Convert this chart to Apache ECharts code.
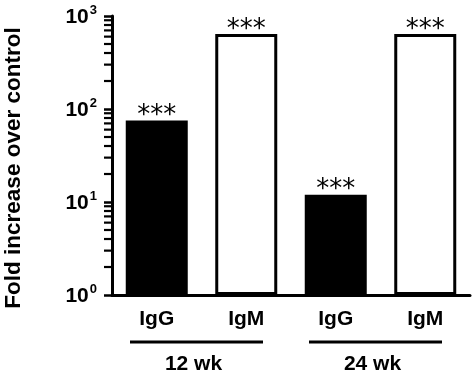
<!DOCTYPE html>
<html>
<head>
<meta charset="utf-8">
<script src="https://cdn.jsdelivr.net/npm/echarts@6/dist/echarts.min.js"></script>
<style>html,body{margin:0;padding:0;background:#fff}#c{width:474px;height:375px;background:#fff}</style>
</head>
<body>
<div id="c"></div>
<script>
const categories = ['IgG', 'IgM', 'IgG', 'IgM'];
const foldValues = [75, 640, 12, 640];
const barColors = ['#000000', '#ffffff', '#000000', '#ffffff'];
const significance = ['***', '***', '***', '***'];
const groupLabels = ['12 wk', '24 wk'];
const groupMembers = [[0, 1], [2, 3]];
const decades = [1, 10, 100];
const minorMultipliers = [2, 3, 4, 5, 6, 7, 8, 9];
const yTitle = 'Fold increase over control';

const minorTickValues = [];
decades.forEach(d => minorMultipliers.forEach(m => minorTickValues.push(d * m)));

const FONT = '"Liberation Sans", Arial, sans-serif';
const chart = echarts.init(document.getElementById('c'));

chart.setOption({
  animation: false,
  grid: {left: 112, right: 4, top: 16, bottom: 80, containLabel: false, outerBoundsMode: 'none'},
  xAxis: [
    {
      type: 'category',
      data: categories,
      axisLine: {lineStyle: {color: '#000', width: 3}},
      axisTick: {alignWithLabel: true, length: 8, lineStyle: {color: '#000', width: 2.5}},
      axisLabel: {color: '#000', fontFamily: FONT, fontWeight: 'bold', fontSize: 21, margin: 14, interval: 0}
    },
    {type: 'value', min: 0, max: 1, show: false}
  ],
  yAxis: {
    type: 'log',
    logBase: 10,
    min: 1,
    max: 1000,
    name: yTitle,
    nameLocation: 'middle',
    nameRotate: 90,
    nameGap: 87,
    nameTextStyle: {color: '#000', fontFamily: FONT, fontWeight: 'bold', fontSize: 22.5, padding: [0, 25, 0, 0]},
    splitLine: {show: false},
    axisLine: {show: true, lineStyle: {color: '#000', width: 3}},
    axisTick: {show: true, length: 8, lineStyle: {color: '#000', width: 2.5}},
    axisLabel: {
      margin: 15,
      formatter: v => '{b|10}{s|' + Math.round(Math.log10(v)) + '}',
      rich: {
        b: {fontFamily: FONT, fontWeight: 'bold', fontSize: 21, color: '#000', lineHeight: 24, verticalAlign: 'bottom'},
        s: {fontFamily: FONT, fontWeight: 'bold', fontSize: 13, color: '#000', lineHeight: 24, verticalAlign: 'top', padding: [0, 0, 0, 1]}
      }
    }
  },
  series: [
    {
      type: 'bar',
      xAxisIndex: 0,
      barWidth: 62,
      data: foldValues.map((v, i) => ({
        value: v,
        itemStyle: {color: barColors[i], borderColor: '#000', borderWidth: barColors[i] === '#ffffff' ? 3 : 0}
      })),
      label: {
        show: true,
        position: 'top',
        distance: -9,
        formatter: p => significance[p.dataIndex],
        fontFamily: '"DejaVu Sans", sans-serif',
        fontSize: 26,
        color: '#000'
      }
    },
    {
      type: 'scatter',
      xAxisIndex: 1,
      silent: true,
      clip: false,
      z: 10,
      symbol: 'rect',
      symbolSize: [8, 2.2],
      symbolOffset: [-4, 0],
      itemStyle: {color: '#000', opacity: 1},
      data: minorTickValues.map(v => [0, v])
    }
  ]
});

// group brackets beneath the categories, positioned through the x axis scale
const graphics = [];
groupMembers.forEach((members, gi) => {
  const a = chart.convertToPixel({xAxisIndex: 0}, members[0]);
  const b = chart.convertToPixel({xAxisIndex: 0}, members[members.length - 1]);
  const mid = (a + b) / 2 - 5;
  const half = 66.5;
  graphics.push({
    type: 'line',
    shape: {x1: mid - half, y1: 342, x2: mid + half, y2: 342},
    style: {stroke: '#000', lineWidth: 3}
  });
  graphics.push({
    type: 'text',
    x: mid - 3,
    y: 364,
    style: {text: groupLabels[gi], fill: '#000', font: 'bold 21px ' + FONT, align: 'center', verticalAlign: 'middle'}
  });
});
chart.setOption({graphic: graphics});
</script>
</body>
</html>
